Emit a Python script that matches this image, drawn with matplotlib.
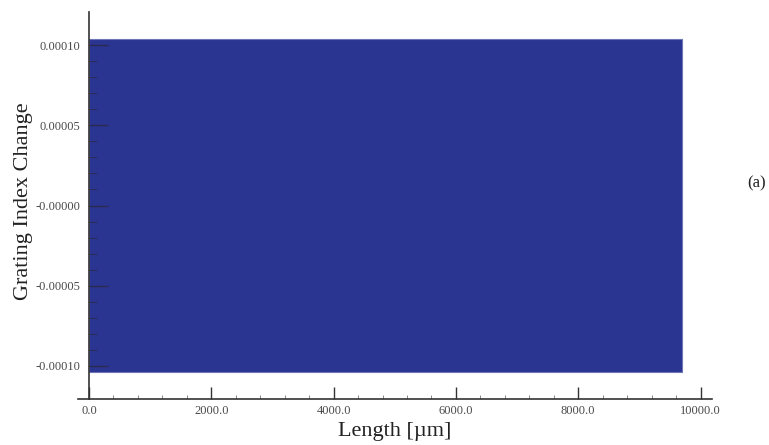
import matplotlib
matplotlib.use("Agg")
import matplotlib.pyplot as plt
import numpy as np
from matplotlib.ticker import FixedLocator, FixedFormatter, MultipleLocator, FormatStrFormatter

# ---- data (envelope of the rapidly oscillating grating index change) ----
length_um = [0.0, 9700.0]
index_upper = [1.04e-4, 1.04e-4]
index_lower = [-1.04e-4, -1.04e-4]

x_ticks = [0, 2000, 4000, 6000, 8000, 10000]
y_ticks = [1e-4, 5e-5, 0.0, -5e-5, -1e-4]
y_tick_labels = ["0.00010", "0.00005", "-0.00000", "-0.00005", "-0.00010"]

W, H = 769, 445
fig = plt.figure(figsize=(W / 100, H / 100), dpi=100)
ax = fig.add_axes([78 / W, 1 - 399 / H, (712 - 78) / W, (399 - 12) / H])

fill_color = "#2a3491"
ax.fill_between(length_um, index_lower, index_upper, color=fill_color,
                edgecolor="#6f76b8", linewidth=0.8, zorder=1)

ax.set_xlim(-180, 10188)
ax.set_ylim(-1.208e-4, 1.208e-4)

for s in ["top", "right"]:
    ax.spines[s].set_visible(False)
ax.spines["left"].set_position(("data", 0))
for s in ["left", "bottom"]:
    ax.spines[s].set_color("#333333")
    ax.spines[s].set_linewidth(1.2)

serif = ["Liberation Serif", "DejaVu Serif"]
tick_color = "#4a4a4a"

ax.xaxis.set_major_locator(FixedLocator(x_ticks))
ax.xaxis.set_major_formatter(FormatStrFormatter("%.1f"))
ax.xaxis.set_minor_locator(MultipleLocator(400))
ax.yaxis.set_major_locator(FixedLocator(y_ticks))
ax.yaxis.set_major_formatter(FixedFormatter(y_tick_labels))
ax.yaxis.set_minor_locator(FixedLocator(np.arange(-1e-4, 1.01e-4, 1e-5)))

ax.tick_params(axis="x", which="major", direction="in", length=9, width=1.0,
               color="#333333", labelsize=9, labelcolor=tick_color, pad=4)
ax.tick_params(axis="x", which="minor", direction="in", length=3, width=0.6,
               color="#777777")
ax.tick_params(axis="y", which="major", direction="in", length=14, width=1.0,
               color="#2a2a50", labelsize=9, labelcolor=tick_color, pad=6)
ax.tick_params(axis="y", which="minor", direction="in", length=6, width=0.6,
               color="#2a2a50")
for lab in ax.get_xticklabels() + ax.get_yticklabels():
    lab.set_family(serif)

ax.set_xlabel("Length [µm]", family=serif, fontsize=16, color="#222222", labelpad=4)
fig.text(24 / W, 1 - 201 / H, "Grating Index Change", family=serif, fontsize=16,
         color="#222222", rotation=90, ha="center", va="center")
fig.text(766 / W, 1 - 183 / H, "(a)", family=serif, fontsize=12,
         color="#222222", ha="right", va="center")

fig.savefig("out.png", dpi=100)
